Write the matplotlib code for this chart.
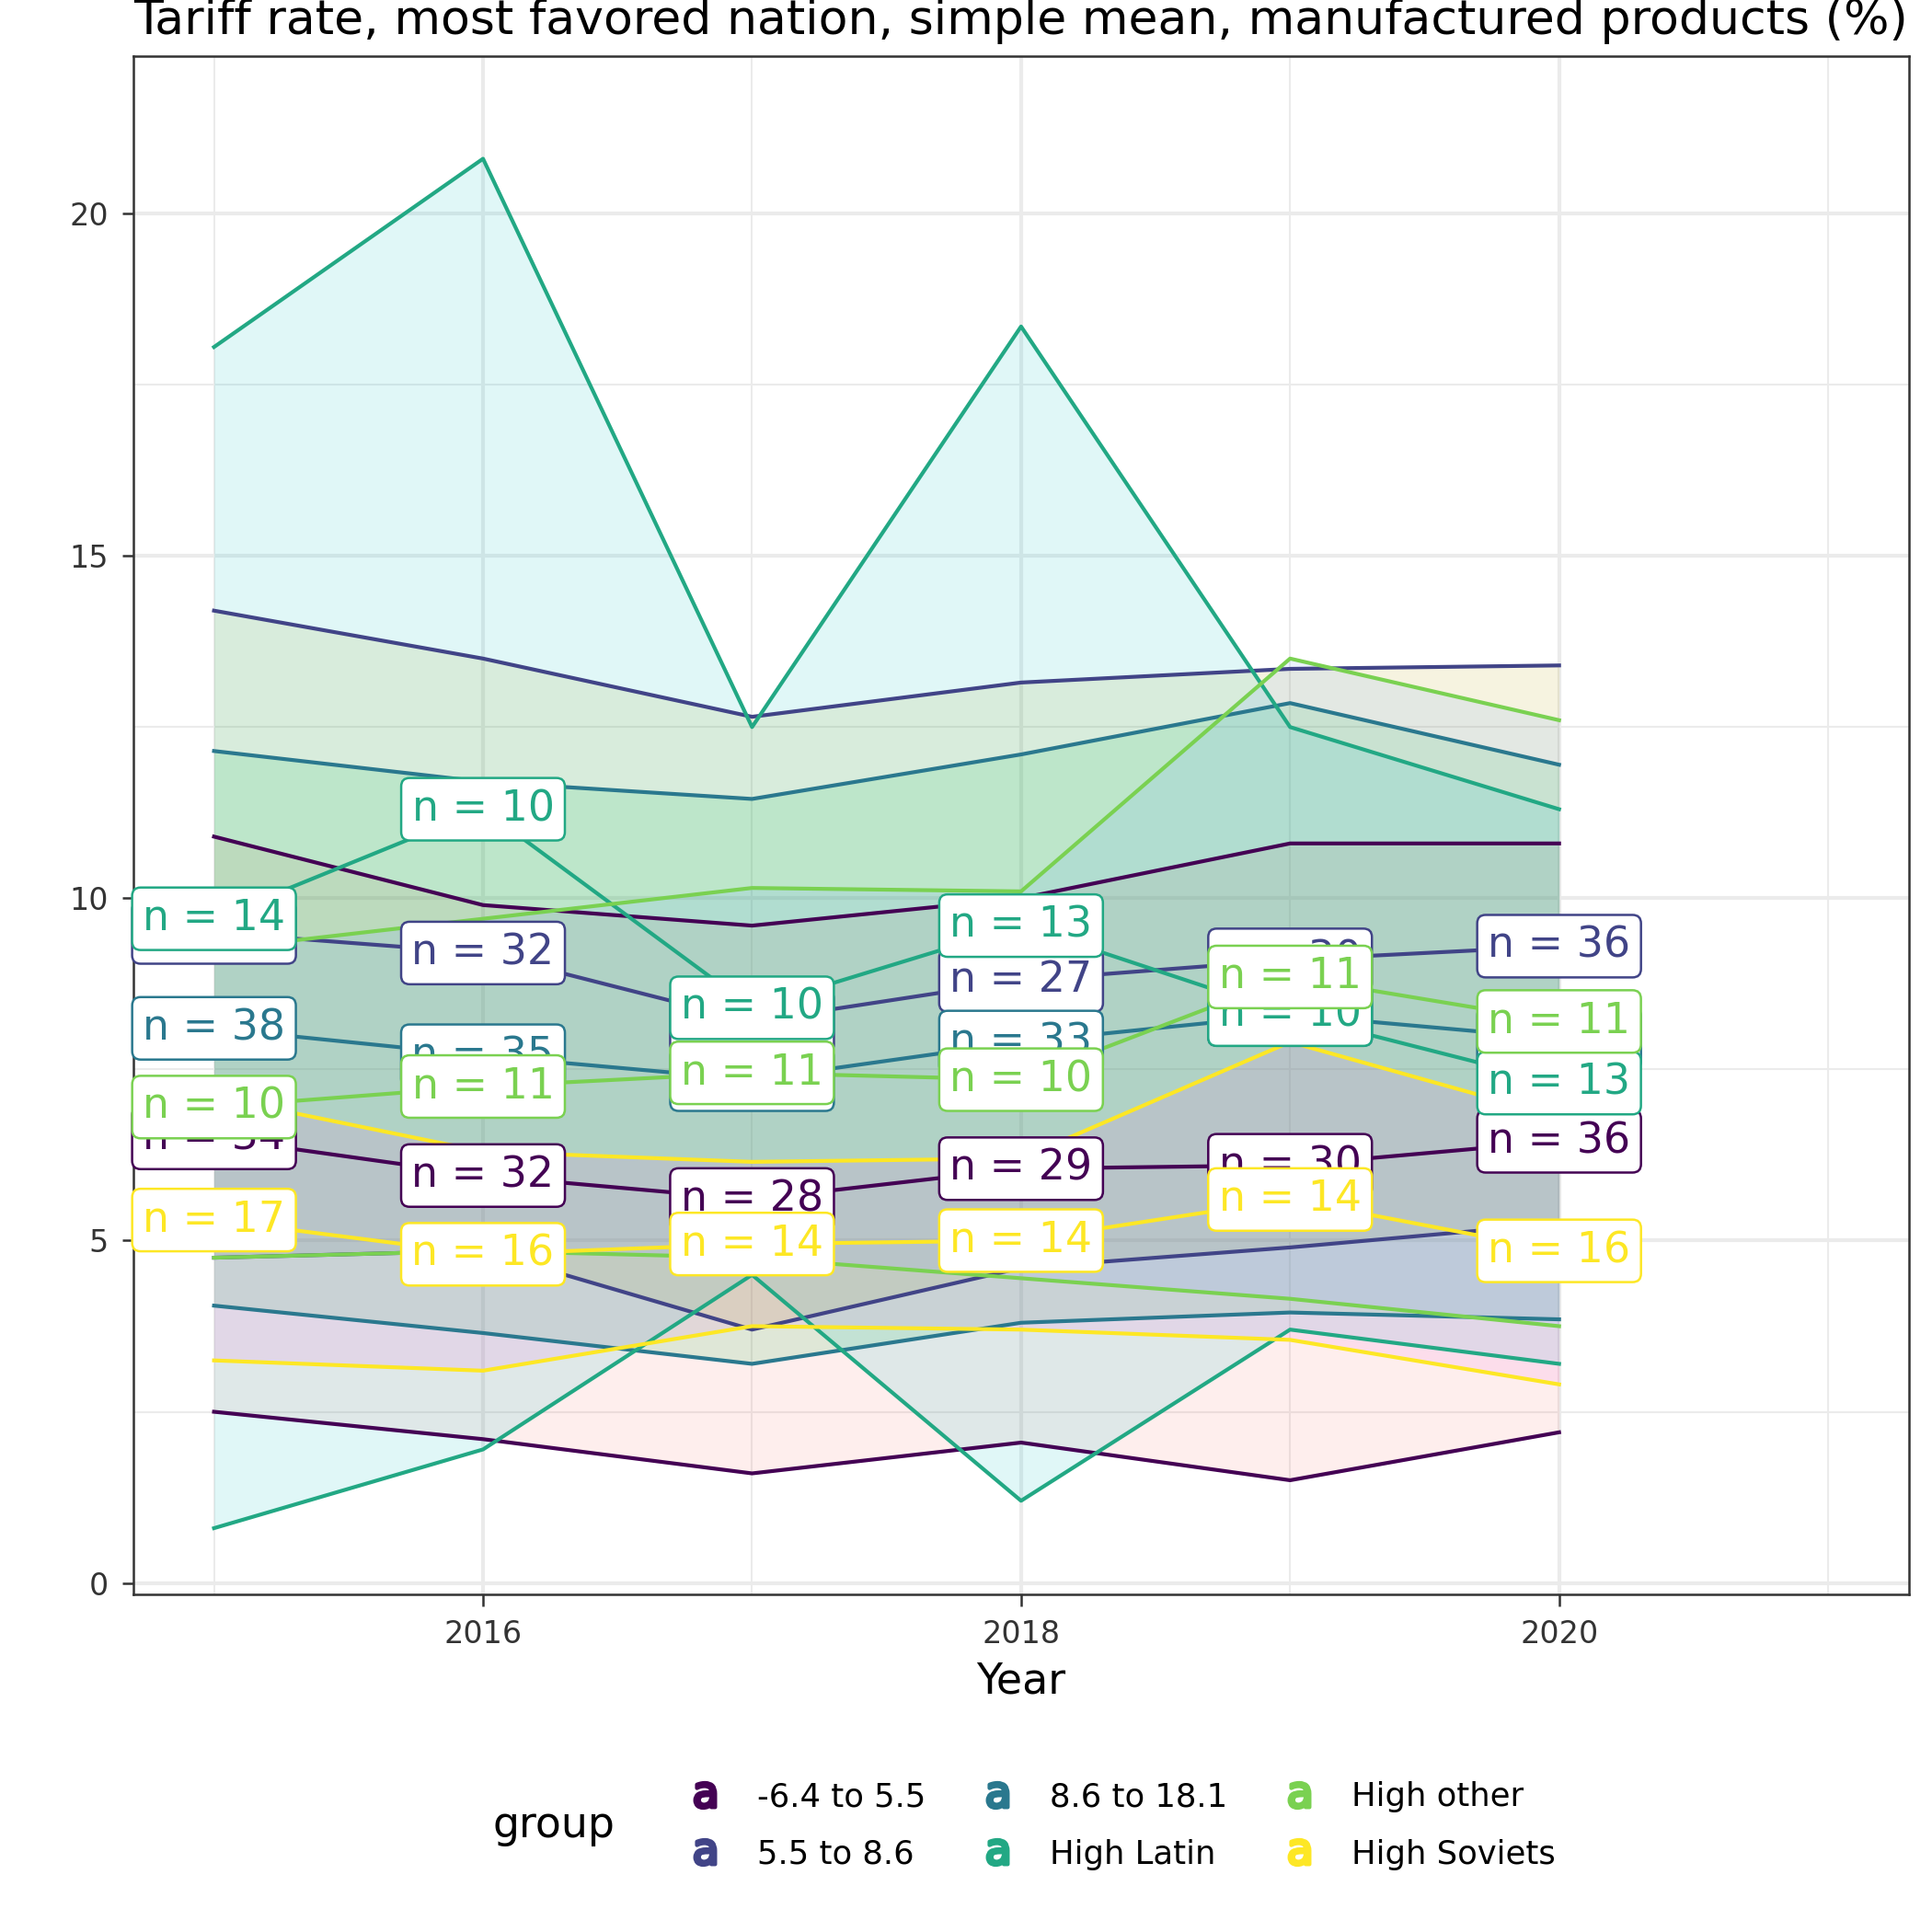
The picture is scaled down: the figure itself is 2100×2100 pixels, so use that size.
import matplotlib
matplotlib.use('Agg')
from matplotlib import pyplot as plt
from matplotlib.lines import Line2D
from matplotlib.offsetbox import HPacker
import numpy as np

years = [2015, 2016, 2017, 2018, 2019, 2020]
groups = ['-6.4 to 5.5', '5.5 to 8.6', '8.6 to 18.1', 'High Latin', 'High other', 'High Soviets']
line_colors = ['#440154', '#414487', '#2A788E', '#22A884', '#7AD151', '#FDE725']
fill_colors = ['#F8766D', '#B79F00', '#00BA38', '#00BFC4', '#619CFF', '#F564E3']

median = {
    '-6.4 to 5.5': [6.5, 5.95, 5.6, 6.05, 6.1, 6.45],
    '5.5 to 8.6': [9.5, 9.2, 8.2, 8.8, 9.1, 9.3],
    '8.6 to 18.1': [8.1, 7.7, 7.35, 7.9, 8.3, 7.95],
    'High Latin': [9.7, 11.3, 8.4, 9.6, 8.3, 7.3],
    'High other': [6.95, 7.25, 7.45, 7.35, 8.85, 8.2],
    'High Soviets': [5.3, 4.8, 4.95, 5.0, 5.6, 4.85],
}
upper = {
    '-6.4 to 5.5': [10.9, 9.9, 9.6, 10.0, 10.8, 10.8],
    '5.5 to 8.6': [14.2, 13.5, 12.65, 13.15, 13.35, 13.4],
    '8.6 to 18.1': [12.15, 11.7, 11.45, 12.1, 12.85, 11.95],
    'High Latin': [18.05, 20.8, 12.5, 18.35, 12.5, 11.3],
    'High other': [9.25, 9.7, 10.15, 10.1, 13.5, 12.6],
    'High Soviets': [7.1, 6.3, 6.15, 6.2, 7.9, 6.8],
}
lower = {
    '-6.4 to 5.5': [2.5, 2.1, 1.6, 2.05, 1.5, 2.2],
    '5.5 to 8.6': [4.75, 4.85, 3.7, 4.6, 4.9, 5.25],
    '8.6 to 18.1': [4.05, 3.65, 3.2, 3.8, 3.95, 3.85],
    'High Latin': [0.8, 1.95, 4.5, 1.2, 3.7, 3.2],
    'High other': [4.75, 4.85, 4.75, 4.45, 4.15, 3.75],
    'High Soviets': [3.25, 3.1, 3.75, 3.7, 3.55, 2.9],
}
counts = {
    '-6.4 to 5.5': [34, 32, 28, 29, 30, 36],
    '5.5 to 8.6': [35, 32, 29, 27, 30, 36],
    '8.6 to 18.1': [38, 35, 33, 33, 34, 36],
    'High Latin': [14, 10, 10, 13, 10, 13],
    'High other': [10, 11, 11, 10, 11, 11],
    'High Soviets': [17, 16, 14, 14, 14, 16],
}

fig = plt.figure(figsize=(7, 7), dpi=300)
ax = fig.add_axes([0.069, 0.175, 0.919, 0.796])

for g, lc, fc in zip(groups, line_colors, fill_colors):
    ax.fill_between(years, lower[g], upper[g], color=fc, alpha=0.12, linewidth=0, zorder=1)
    ax.plot(years, upper[g], color=lc, lw=1.0, zorder=2)
    ax.plot(years, lower[g], color=lc, lw=1.0, zorder=2)
    ax.plot(years, median[g], color=lc, lw=1.0, zorder=2)

for g, lc in zip(groups, line_colors):
    for x, y, n in zip(years, median[g], counts[g]):
        ax.text(x, y, 'n = %d' % n, color=lc, fontsize=11, ha='center', va='center', zorder=5,
                bbox=dict(boxstyle='round,pad=0.25,rounding_size=0.2', fc='white', ec=lc, lw=0.6))

ax.set_xlim(2014.7, 2021.3)
ax.set_ylim(-0.16, 22.3)
ax.set_xticks([2016, 2018, 2020])
ax.set_xticks([2015, 2017, 2019, 2021], minor=True)
ax.set_yticks([0, 5, 10, 15, 20])
ax.set_yticks([2.5, 7.5, 12.5, 17.5], minor=True)
ax.grid(which='major', color='#EBEBEB', lw=1.0, zorder=0)
ax.grid(which='minor', color='#EBEBEB', lw=0.5, zorder=0)
ax.set_axisbelow(True)
ax.tick_params(which='major', labelsize=8, colors='#333333', length=3, width=0.6)
ax.tick_params(which='minor', length=0)
for s in ax.spines.values():
    s.set_color('#333333')
    s.set_linewidth(0.6)
ax.set_xlabel('Year', fontsize=11, labelpad=3)

fig.text(0.069, 0.977, 'Tariff rate, most favored nation, simple mean, manufactured products (%)',
         fontsize=12.5, ha='left', va='bottom')

handles = [Line2D([], [], linestyle='none', marker='$\\mathrm{a}$', markersize=6.5, color=c)
           for c in line_colors]
leg = fig.legend(handles, groups, loc='center', bbox_to_anchor=(0.53, 0.055), ncol=3,
                 frameon=False, fontsize=8.5, title='group', title_fontsize=11,
                 columnspacing=1.2, handletextpad=0.6, labelspacing=0.8)
# put the legend title to the left, as ggplot does
box = leg._legend_box
box.__class__ = HPacker
box.align = 'center'
box.sep = 15

fig.savefig('out.png', dpi=300)
